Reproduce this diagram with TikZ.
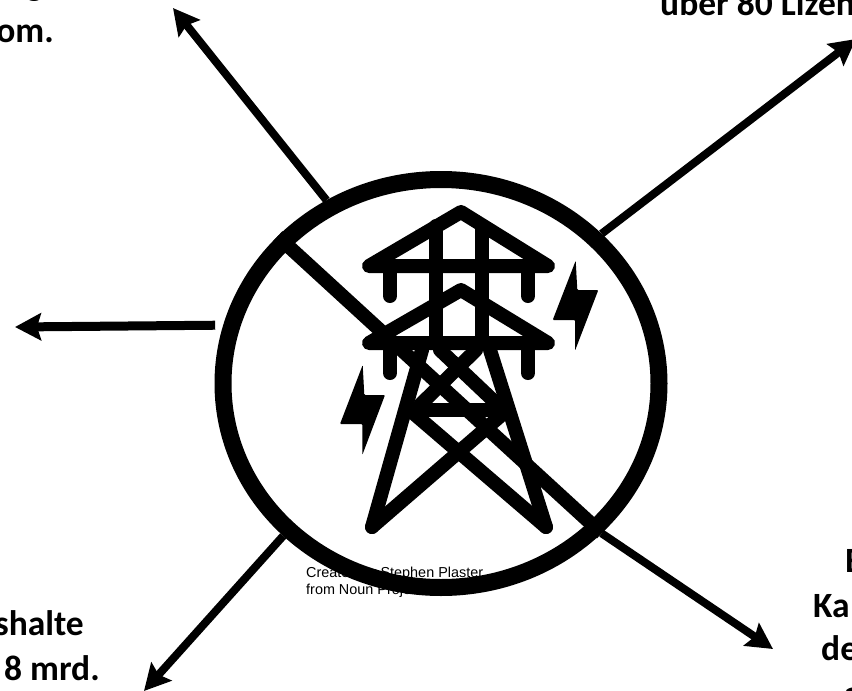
\documentclass[tikz,border=0pt]{standalone}
\usepackage{fontspec}
\setmainfont{Carlito}
\newfontfamily\creditfont{Liberation Sans}
\usetikzlibrary{shapes.geometric, arrows.meta}

\begin{document}
\begin{tikzpicture}[
  x=1pt, y=-1pt,
  lbl/.style={font=\fontsize{35.5}{42}\selectfont\bfseries, inner sep=0pt},
  credit/.style={font=\fontsize{14.4}{17}\selectfont\creditfont, inner sep=0pt, anchor=base west},
  ring/.style={draw, ellipse, line width=17pt, minimum width=436pt, minimum height=408pt, inner sep=0pt},
  arm/.style={line width=8pt, -{Stealth[length=26pt, width=27pt, inset=4pt]}},
  mast/.style={line width=14pt, line cap=round, line join=round},
  bolt/.style={fill, rounded corners=1pt}]
  \useasboundingbox (0,0) rectangle (852,691);
  \clip (0,0) rectangle (852,691);
  % cut-off texts at the edges
  \node[lbl, anchor=base west] (lblTopA) at (26,-5) {g};
  \node[lbl, anchor=base east] (lblTopB) at (54,42) {om.};
  \node[lbl, anchor=base west] (lblLiz) at (660,15) {über 80 Lizen};
  \node[lbl, anchor=base east] (lblLeftA) at (84,635) {shalte};
  \node[lbl, anchor=base east] (lblLeftB) at (100,680) {8 mrd.};
  \node[lbl, anchor=base west] (lblRightA) at (845,572) {E};
  \node[lbl, anchor=base west] (lblRightB) at (813,617) {Ka};
  \node[lbl, anchor=base west] (lblRightC) at (821,660) {de};
  \node[lbl, anchor=base west] (lblRightD) at (844,705) {a};
  \node[credit] (creditA) at (306,577) {Created by Stephen Plaster};
  \node[credit] (creditB) at (306,594) {from Noun Project};
  % pylon
  \draw[mast] (369,266) -- (461,212) -- (548,266) -- cycle;
  \draw[mast] (369,343) -- (461,290) -- (548,343) -- cycle;
  \draw[mast] (436,226) -- (436,343);
  \draw[mast] (482,226) -- (482,343);
  \draw[mast] (390,266) -- (390,296);
  \draw[mast] (528,266) -- (528,296);
  \draw[mast] (390,343) -- (390,373);
  \draw[mast] (528,343) -- (528,373);
  \draw[mast] (422,350) -- (372,527);
  \draw[mast] (490,350) -- (546,527);
  \draw[mast] (418,410) -- (500,410);
  \draw[mast] (372,527) -- (505,412);
  \draw[mast] (546,527) -- (412,412);
  \draw[mast] (420,405) -- (476,350);
  \draw[mast] (498,405) -- (440,350);
  \fill[bolt] (575.7,260.7) -- (552.7,320) -- (575,320) -- (575,350.7) -- (598.3,290) -- (577.3,290) -- cycle;
  \fill[bolt] (362.7,365) -- (340,424) -- (362.3,424) -- (362.3,455) -- (385,395) -- (364.3,395) -- cycle;
  % ban sign
  \node[ring] (ban) at (441,383.5) {};
  \coordinate (tipA) at (173,8);
  \coordinate (tipB) at (856,39);
  \coordinate (tipC) at (15,327);
  \coordinate (tipD) at (144,691);
  \coordinate (tipE) at (773,649);
  \draw[line width=14pt] (ban.138) -- (ban.-43);
  \draw[arm] (ban.122.3) -- (tipA);
  \draw[arm] (ban.43) -- (tipB);
  \draw[arm, line width=9pt, shorten <=8pt] (ban.165) -- (tipC);
  \draw[arm] (ban.-136.6) -- (tipD);
  \draw[arm] (ban.-43) -- (tipE);
\end{tikzpicture}
\end{document}
